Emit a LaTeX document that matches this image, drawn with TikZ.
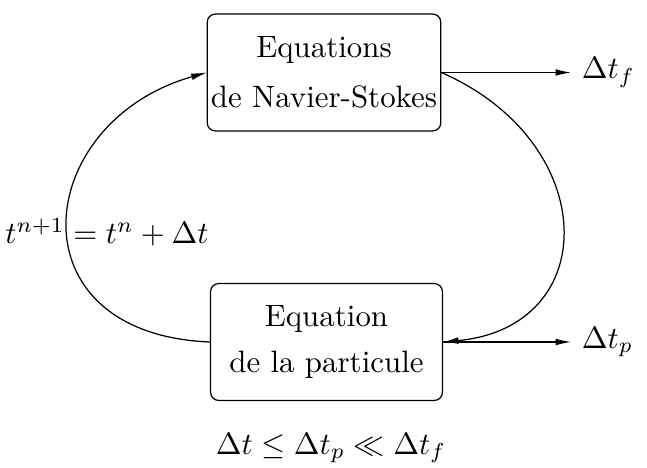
\documentclass[tikz,border=0pt]{standalone}
\usepackage{amsmath, amssymb}
\usetikzlibrary{arrows.meta, positioning}

\tikzset{
  eqbox/.style={draw, rounded corners=2.6pt, align=center, inner xsep=1.2pt,
    minimum width=75pt, minimum height=37.8pt},
  flow/.style={-{Latex[length=5pt, width=2.2pt]}, thin}
}

\begin{document}
\begin{tikzpicture}[x=0.3235pt, y=-0.3235pt]
  \useasboundingbox (0,0) rectangle (647,467);

  % les deux blocs
  \node[eqbox] (ns) at (324,72.5) {Equations\\[4pt]de Navier-Stokes};
  \node[eqbox] (part) at (326.5,342) {Equation\\[3pt]de la particule};

  % pas de temps
  \node[anchor=west] (dtf) at (571,72.5) {$\Delta t_f$};
  \node[anchor=west] (dtp) at (571,342) {$\Delta t_p$};
  \node (maj) at (107,232) {$t^{n+1} = t^n + \Delta t$};
  \node (rel) at (331,448) {$\Delta t \le \Delta t_p \ll \Delta t_f$};

  \draw[flow] (ns.east) -- (dtf.west);
  \draw[flow] (part.east) -- (dtp.west);

  % boucle
  \draw[flow] (part.west) .. controls +(-200,-8) and +(-175,50) .. (ns.west);
  \draw[flow] (ns.east) .. controls +(160,70) and +(160,-15) .. (part.east);
\end{tikzpicture}
\end{document}
